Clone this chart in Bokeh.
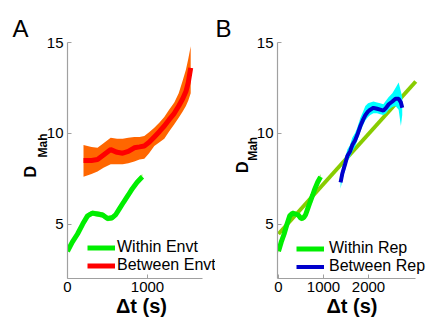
from bokeh.plotting import figure
from bokeh.layouts import row
from bokeh.models import Legend, LegendItem, Range1d, FixedTicker, LinearAxis, Title
from bokeh.embed import file_html
from bokeh.resources import INLINE

FONT = "Liberation Sans"
NB = "\u00a0"

# ---- data: within-environment (green), shared by A and B ----
t_within = [0, 60, 125, 190, 250, 310, 375, 440, 500, 560, 600, 650, 700, 760, 810, 870, 935]
d_within = [3.5, 4.0, 4.45, 5.0, 5.45, 5.6, 5.55, 5.5, 5.3, 5.35, 5.5, 5.85, 6.2, 6.6, 6.95, 7.3, 7.6]
d_within_lo = [3.4, 3.85, 4.3, 4.85, 5.3, 5.45, 5.4, 5.35, 5.15, 5.2, 5.35, 5.7, 6.05, 6.45, 6.8, 7.15, 7.45]
d_within_hi = [3.6, 4.15, 4.6, 5.15, 5.6, 5.75, 5.7, 5.65, 5.45, 5.5, 5.65, 6.0, 6.35, 6.75, 7.1, 7.45, 7.75]

# ---- data: between environments (red) ----
t_between = [200, 300, 375, 450, 540, 620, 690, 760, 835, 900, 960, 1020, 1085, 1150, 1210,
             1270, 1335, 1390, 1440, 1480, 1510, 1540]
d_between = [8.5, 8.5, 8.55, 8.8, 9.1, 8.95, 8.9, 9.0, 9.2, 9.25, 9.3, 9.5, 9.8, 10.1, 10.4,
             10.75, 11.1, 11.5, 11.9, 12.3, 12.8, 13.6]
d_between_hi = [9.35, 9.25, 9.2, 9.45, 9.75, 9.7, 9.7, 9.75, 9.8, 9.8, 9.85, 10.05, 10.3, 10.6,
                10.9, 11.3, 11.7, 12.2, 12.9, 13.5, 14.1, 14.8]
d_between_lo = [7.6, 7.75, 7.9, 8.1, 8.3, 8.3, 8.3, 8.35, 8.45, 8.55, 8.6, 8.9, 9.3, 9.5, 9.7,
                10.1, 10.5, 10.85, 11.2, 11.5, 11.8, 12.2]

# ---- data: between repetitions (blue) ----
t_rep = [1380, 1420, 1480, 1530, 1590, 1640, 1700, 1750, 1820, 1880, 1930, 1990, 2040, 2110,
         2190, 2260, 2330, 2390, 2450, 2530, 2600, 2670, 2720, 2750]
d_rep = [7.3, 7.8, 8.3, 8.75, 9.0, 9.35, 9.6, 9.9, 10.4, 10.75, 11.0, 11.2, 11.3, 11.4,
         11.35, 11.3, 11.25, 11.4, 11.6, 11.75, 11.9, 11.9, 11.7, 11.4]
d_rep_hi = [7.65, 8.15, 8.65, 9.1, 9.35, 9.75, 10.0, 10.3, 10.85, 11.2, 11.5, 11.65, 11.7, 11.75,
            11.7, 11.65, 11.6, 11.8, 12.0, 12.2, 12.5, 12.8, 12.3, 12.0]
d_rep_lo = [6.95, 7.45, 7.95, 8.45, 8.7, 9.0, 9.25, 9.6, 10.1, 10.45, 10.7, 10.9, 11.0, 11.1,
            11.1, 11.05, 11.0, 11.1, 11.3, 11.45, 11.5, 11.3, 10.4, 11.0]

# ---- linear fit (B) ----
t_fit = [0, 3050]
d_fit = [4.45, 12.85]

y_ticks = [5, 10, 15]
x_ticks_a = [0, 1000]
x_ticks_b = [0, 1000, 2000]

GREEN = "#00EE00"
GREEN_BAND = "#88EE55"
RED = "#FF0000"
ORANGE = "#FF6600"
BLUE = "#0000CC"
CYAN = "#00FFFF"
FIT = "#88CC00"
AXIS = "#A0A0A0"


def style(p, xt, xbounds, letter, title_offset, mah_pad, d_pad, mah_standoff, d_standoff):
    p.xaxis.ticker = FixedTicker(ticks=xt)
    p.yaxis.ticker = FixedTicker(ticks=y_ticks)
    p.xaxis.bounds = xbounds
    p.yaxis.bounds = (2, 15)
    for ax in (p.xaxis[0], p.yaxis[0]):
        ax.axis_line_color = AXIS
        ax.axis_line_width = 1.2
        ax.major_tick_line_color = AXIS
        ax.major_tick_in = 4
        ax.major_tick_out = 0
        ax.minor_tick_line_color = None
        ax.major_label_text_font = FONT
        ax.major_label_text_font_size = "15px"
        ax.major_label_text_color = "black"
        ax.major_label_standoff = 4
    p.xaxis.major_label_standoff = 3
    p.xaxis.axis_label = "\u0394t (s)"
    p.xaxis.axis_label_text_font = FONT
    p.xaxis.axis_label_text_font_size = "20px"
    p.xaxis.axis_label_text_font_style = "bold"
    p.xaxis.axis_label_text_color = "black"
    p.xaxis.axis_label_standoff = 0
    p.xgrid.visible = False
    p.ygrid.visible = False
    p.outline_line_color = None

    mah = LinearAxis(ticker=FixedTicker(ticks=[]), axis_line_color=None,
                     major_tick_line_color=None, minor_tick_line_color=None,
                     major_tick_in=0, major_tick_out=0, minor_tick_in=0, minor_tick_out=0,
                     major_label_standoff=0,
                     axis_label=NB * mah_pad + "Mah", axis_label_standoff=mah_standoff,
                     axis_label_text_font=FONT, axis_label_text_font_size="12px",
                     axis_label_text_font_style="bold", axis_label_text_color="black")
    d = LinearAxis(ticker=FixedTicker(ticks=[]), axis_line_color=None,
                   major_tick_line_color=None, minor_tick_line_color=None,
                   major_tick_in=0, major_tick_out=0, minor_tick_in=0, minor_tick_out=0,
                   major_label_standoff=0,
                   axis_label="D" + NB * d_pad, axis_label_standoff=d_standoff,
                   axis_label_text_font=FONT, axis_label_text_font_size="16px",
                   axis_label_text_font_style="bold", axis_label_text_color="black")
    p.add_layout(mah, "left")
    p.add_layout(d, "left")

    p.title = Title(text=letter, align="left", offset=title_offset, standoff=2,
                    text_font=FONT, text_font_size="24px", text_font_style="normal",
                    text_color="black")


def legend(p, items, vx, vy, standoff):
    lg = Legend(items=items, location=(vx, vy), padding=0, margin=0, spacing=0,
                glyph_width=28, glyph_height=17, label_height=17, label_standoff=standoff,
                label_text_font=FONT, label_text_font_size="16px", label_text_color="black",
                background_fill_alpha=0, border_line_alpha=0)
    p.add_layout(lg)


# ---------------- Panel A ----------------
# frame: x 67..215, y 42..279 ; x scale 0.08 px per s
pa = figure(width=215, height=321, output_backend="svg", toolbar_location=None,
            x_range=Range1d(0, 1850), y_range=Range1d(2, 15),
            min_border_left=67, min_border_right=0, min_border_top=42, min_border_bottom=42)
style(pa, x_ticks_a, (0, 1690), "A", -55, 9, 5, -6, -6)
pa.varea(x=t_between, y1=d_between_lo, y2=d_between_hi, fill_color=ORANGE)
r_red = pa.line(t_between, d_between, line_color=RED, line_width=5)
pa.varea(x=t_within, y1=d_within_lo, y2=d_within_hi, fill_color=GREEN_BAND)
r_green_a = pa.line(t_within, d_within, line_color=GREEN, line_width=5)
legend(pa, [LegendItem(label="Within Envt", renderers=[r_green_a]),
            LegendItem(label="Between Envt", renderers=[r_red])], 20, 4, 2)

# ---------------- Panel B ----------------
# frame: x 277..426, y 37..278 ; x scale 0.045 px per s
pb = figure(width=211, height=321, output_backend="svg", toolbar_location=None,
            x_range=Range1d(-22, 3289), y_range=Range1d(2, 15),
            min_border_left=62, min_border_right=0, min_border_top=37, min_border_bottom=43)
style(pb, x_ticks_b, (-22, 3050), "B", -62, 7, 3, -6, -8)
pb.line(t_fit, d_fit, line_color=FIT, line_width=4)
pb.varea(x=t_within, y1=d_within_lo, y2=d_within_hi, fill_color=GREEN_BAND)
r_green_b = pb.line(t_within, d_within, line_color=GREEN, line_width=5)
pb.varea(x=t_rep, y1=d_rep_lo, y2=d_rep_hi, fill_color=CYAN)
r_blue = pb.line(t_rep, d_rep, line_color=BLUE, line_width=4)
legend(pb, [LegendItem(label="Within Rep", renderers=[r_green_b]),
            LegendItem(label="Between Rep", renderers=[r_blue])], 19, 3, 5)

layout = row(pa, pb, spacing=0)
open("out.html", "w").write(file_html(layout, INLINE))
